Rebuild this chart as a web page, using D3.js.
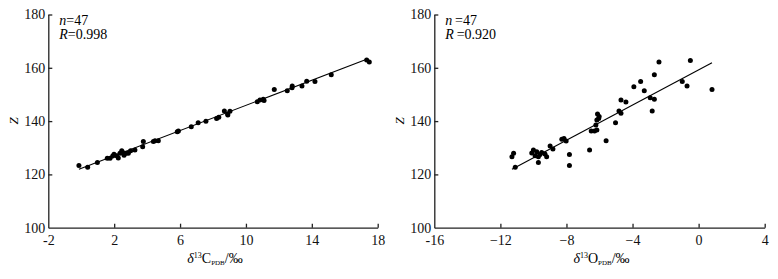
<!DOCTYPE html>
<html>
<head>
<meta charset="utf-8">
<script src="https://cdn.jsdelivr.net/npm/d3@7"></script>
<style>
  body { margin: 0; background: #fff; }
  svg, svg text { font-family: "Liberation Serif", "Times New Roman", Times, serif; }
</style>
</head>
<body>
<svg id="chart" width="778" height="279"></svg>
<script>
// values
const carbonX = [17.33, 17.49, 15.18, 14.19, 13.69, 13.40, 12.81, 12.51, 11.72, 11.05, 10.85, 10.69, 11.1,
  9.03, 8.89, 8.69, 8.35, 8.22, 7.57, 7.1, 6.68, 5.83, 5.9, 4.68, 4.48, 4.38, 3.77, 3.73, 3.26, 3.0,
  2.86, 2.72, 2.55, 2.46, 2.35, 2.25, 2.15, 1.99, 1.91, 1.75, 1.58, 0.98, 0.39, -0.14, 8.9, 2.6, 12.8];
const carbonZ = [162.9, 162.2, 157.4, 154.9, 155.0, 153.2, 153.2, 151.4, 151.9, 148.2, 147.9, 147.3, 147.7,
  143.7, 142.7, 143.8, 141.4, 141.0, 139.9, 139.4, 137.9, 136.0, 136.3, 132.6, 132.6, 132.3, 132.3, 130.4, 129.2, 128.9,
  127.9, 127.9, 128.1, 128.9, 127.9, 126.2, 127.0, 127.6, 126.9, 126.1, 126.1, 124.5, 122.7, 123.3, 142.3, 127.2, 152.5];

const oxygenX = [-11.3, -11.2, -11.1, -10.0, -9.8, -9.6, -9.5, -9.7, -9.7, -9.3, -9.2, -8.99, -8.82, -8.28, -8.02, -8.15,
  -7.82, -7.82, -6.6, -5.6, -6.5, -6.3, -6.16, -6.22, -6.16, -6.02, -6.12, -5.03, -4.82, -4.70, -4.70, -4.40,
  -3.92, -3.51, -3.29, -2.93, -2.68, -2.81, -2.68, -2.40, -0.99, -0.70, -0.50, 0.81, -10.1, -9.9, -6.05];
const oxygenZ = [126.6, 127.9, 122.7, 129.2, 128.5, 127.5, 128.2, 126.6, 124.5, 127.7, 126.6, 130.7, 129.5, 133.2, 132.5, 133.5,
  127.5, 123.3, 129.2, 132.6, 136.3, 136.3, 136.7, 138.5, 140.4, 141.7, 142.7, 139.4, 143.8, 142.9, 147.9, 147.2,
  152.9, 154.9, 151.4, 148.8, 148.2, 143.8, 157.4, 162.2, 154.9, 153.2, 162.7, 151.9, 128.0, 127.0, 141.0];

// fitted line: [slope, intercept, xStart, xEnd]
const carbonFit = [2.36, 122.3, -0.14, 17.33];
const oxygenFit = [3.30, 159.2, -11.3, 0.81];

const zTicks = [100, 120, 140, 160, 180];
const carbonTicks = [-2, 2, 6, 10, 14, 18];
const carbonTickLabels = ["-2", "2", "6", "10", "14", "18"];
const oxygenTicks = [-16, -12, -8, -4, 0, 4];
const oxygenTickLabels = ["-16", "\u221212", "\u22128", "\u22124", "0", "4"];

const serif = '"Liberation Serif", "Times New Roman", Times, serif';
const svg = d3.select("#chart");

function panel(opt) {
  const x = d3.scaleLinear().domain(opt.xDomain).range([opt.left, opt.right]);
  const y = d3.scaleLinear().domain([100, 180]).range([227.7, 14.5]);
  const g = svg.append("g");

  // axes (ticks point inward)
  const xa = g.append("g")
    .attr("transform", `translate(0,${y(100)})`)
    .call(d3.axisBottom(x).tickValues(opt.ticks).tickSizeInner(-4).tickSizeOuter(0)
      .tickFormat((d, i) => opt.tickLabels[i]));
  xa.selectAll("text").attr("dy", "0.71em").attr("y", 7);
  const ya = g.append("g")
    .attr("transform", `translate(${x(opt.xDomain[0])},0)`)
    .call(d3.axisLeft(y).tickValues(zTicks).tickSizeInner(-4).tickSizeOuter(0));
  ya.selectAll("text").attr("x", -3);
  [xa, ya].forEach(a => a.attr("font-family", serif).attr("font-size", 14));
  g.selectAll(".domain, .tick line").attr("stroke", "#222").attr("stroke-width", 1.3);
  g.selectAll(".tick text").attr("fill", "#111");
  g.selectAll(".tick").filter(d => d === 100 || d === opt.xDomain[0]).select("line").remove();

  // regression line
  const f = opt.fit;
  g.append("line")
    .attr("x1", x(f[2])).attr("y1", y(f[0] * f[2] + f[1]))
    .attr("x2", x(f[3])).attr("y2", y(f[0] * f[3] + f[1]))
    .attr("stroke", "#000").attr("stroke-width", 1.1);

  // points
  g.selectAll("circle.pt")
    .data(opt.xs.map((v, i) => [v, opt.zs[i]]))
    .join("circle")
    .attr("class", "pt")
    .attr("cx", d => x(d[0])).attr("cy", d => y(d[1]))
    .attr("r", 2.5).attr("fill", "#000");

  // stats text
  const t1 = g.append("text").attr("x", opt.left + 11).attr("y", 25).attr("font-size", 14);
  t1.append("tspan").style("font-style", "italic").text("n");
  t1.append("tspan").text(opt.gap + "=47");
  const t2 = g.append("text").attr("x", opt.left + 11).attr("y", 39).attr("font-size", 14);
  t2.append("tspan").style("font-style", "italic").text("R");
  t2.append("tspan").text(opt.gap + "=" + opt.r);

  // y title
  g.append("text")
    .attr("transform", `translate(${opt.left - 33},121) rotate(-90)`)
    .attr("text-anchor", "middle").attr("dominant-baseline", "middle")
    .style("font-style", "italic").attr("font-size", 13).text("Z");

  // x title
  const xt = g.append("text")
    .attr("x", (opt.left + opt.right) / 2 + 2).attr("y", 263)
    .attr("text-anchor", "middle").attr("font-size", 14);
  xt.append("tspan").style("font-style", "italic").text("\u03b4");
  xt.append("tspan").attr("dy", -5).attr("font-size", 8).text("13");
  xt.append("tspan").attr("dy", 5).text(opt.element);
  xt.append("tspan").attr("dy", 2).attr("font-size", 7).text("PDB");
  xt.append("tspan").attr("dy", -2).text("/\u2030");
}

panel({ xDomain: [-2, 18], left: 48.3, right: 377.7, ticks: carbonTicks, tickLabels: carbonTickLabels,
  xs: carbonX, zs: carbonZ, fit: carbonFit, r: "0.998", gap: "", element: "C" });
panel({ xDomain: [-16, 4], left: 434.3, right: 764.7, ticks: oxygenTicks, tickLabels: oxygenTickLabels,
  xs: oxygenX, zs: oxygenZ, fit: oxygenFit, r: "0.920", gap: "\u2009", element: "O" });
</script>
</body>
</html>
